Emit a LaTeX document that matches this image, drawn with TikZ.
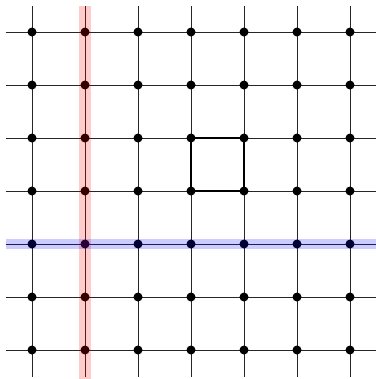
\documentclass[tikz,border=0pt]{standalone}
\usepackage{tikz}
\usetikzlibrary{positioning}

\begin{document}
\begin{tikzpicture}[x=1cm, y=1cm,
  dot/.style={circle, fill=black, inner sep=0pt, minimum size=0.17cm},
  gridline/.style={line width=0.5pt, black!85}]

  \useasboundingbox (-0.604,-0.547) rectangle (6.472,6.604);

  % --- Lattice lines ------------------------------------------------
  \foreach \i in {0,...,6} {
    \draw[gridline] (\i,-0.5) -- (\i,6.5);
    \draw[gridline] (-0.5,\i) -- (6.5,\i);
  }

  % Vertices
  \foreach \i in {0,...,6}
    \foreach \j in {0,...,6}
      \node[dot] (v\i\j) at (\i,\j) {};

  % Plaquette
  \draw[line width=0.9pt, line join=round]
    (v33.center) -- (v43.center) -- (v44.center) -- (v34.center) -- (v33.center);

  % Highlighted column and row
  \fill[red, opacity=0.2] (0.89,-0.6) rectangle (1.11,6.5);
  \fill[blue, opacity=0.2] (-0.5,1.9) rectangle (6.6,2.1);
\end{tikzpicture}
\end{document}
